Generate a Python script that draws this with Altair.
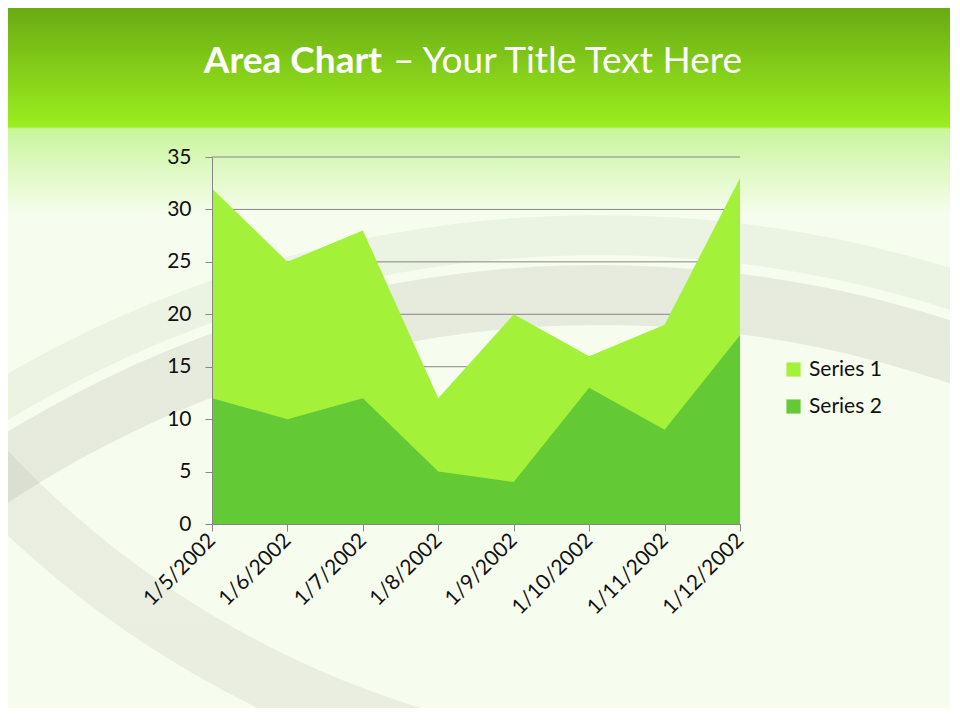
import altair as alt
import pandas as pd

dates = ["1/5/2002", "1/6/2002", "1/7/2002", "1/8/2002", "1/9/2002", "1/10/2002", "1/11/2002", "1/12/2002"]
series1 = [32, 25, 28, 12, 20, 16, 19, 33]
series2 = [12, 10, 12, 5, 4, 13, 9, 18]
series_names = ["Series 1", "Series 2"]
colors = ["#a4f13a", "#63c935"]
y_ticks = [0, 5, 10, 15, 20, 25, 30, 35]

rows = []
for d, a, b in zip(dates, series1, series2):
    rows.append({"date": d, "value": a, "series": "Series 1"})
    rows.append({"date": d, "value": b, "series": "Series 2"})
df = pd.DataFrame(rows)

FONT = "Lato"
W, H = 528, 367
one = pd.DataFrame({"k": [0]})

bg = alt.Chart(one).mark_rect(
    fill=alt.Gradient(
        gradient="linear", x1=0, x2=0, y1=0, y2=1,
        stops=[
            alt.GradientStop(offset=0.0, color="#67a613"),
            alt.GradientStop(offset=0.176, color="#9bee1e"),
            alt.GradientStop(offset=0.179, color="#c9f59c"),
            alt.GradientStop(offset=0.30, color="#f6fdee"),
            alt.GradientStop(offset=1.0, color="#f6fcee"),
        ],
    )
).encode(x=alt.value(-212), x2=alt.value(740), y=alt.value(-157), y2=alt.value(563))

swoosh1 = alt.Chart(one).mark_arc(
    radius=1135, radius2=1075, theta=5.3, theta2=7.2, color="#9a9a92", opacity=0.18
).encode(x=alt.value(388), y=alt.value(1243))
swoosh2 = alt.Chart(one).mark_arc(
    radius=1185, radius2=1145, theta=5.3, theta2=7.2, color="#a8b89a", opacity=0.14
).encode(x=alt.value(388), y=alt.value(1243))
swoosh3 = alt.Chart(one).mark_arc(
    radius=1010, radius2=950, theta=3.3, theta2=4.2, color="#9a9a92", opacity=0.14
).encode(x=alt.value(488), y=alt.value(-357))

title_bold = alt.Chart(one).mark_text(
    text="Area Chart", font=FONT, fontSize=37, fontWeight="bold", color="white",
    align="right", baseline="middle"
).encode(x=alt.value(170), y=alt.value(-95))

title_rest = alt.Chart(one).mark_text(
    text="\u2013 Your Title Text Here", font=FONT, fontSize=37, color="white",
    align="left", baseline="middle"
).encode(x=alt.value(181), y=alt.value(-95))

y_scale = alt.Scale(domain=[0, 35], nice=False)
y_axis = alt.Axis(
    values=y_ticks,
    labelFont=FONT, labelFontSize=21, labelColor="#111111",
    domainColor="#868686", tickColor="#868686", tickSize=7, labelPadding=14,
    grid=False, zindex=1,
)

grid = alt.Chart(pd.DataFrame({"v": y_ticks[1:]})).mark_rule(color="#868686", strokeWidth=1).encode(
    y=alt.Y("v:Q", scale=y_scale, axis=y_axis, title=None)
)

color = alt.Color(
    "series:N",
    scale=alt.Scale(domain=series_names, range=colors),
    legend=alt.Legend(
        title=None, orient="none", legendX=571, legendY=202,
        symbolType="square", symbolSize=200, symbolOpacity=1, symbolStrokeWidth=0,
        labelFont=FONT, labelFontSize=21, labelColor="#111111",
        rowPadding=15, labelOffset=5,
    ),
)

x = alt.X(
    "date:O", sort=dates, scale=alt.Scale(type="point", padding=0), title=None,
    axis=alt.Axis(
        labelAngle=-45, labelAlign="right", labelBaseline="middle",
        labelFont=FONT, labelFontSize=21, labelColor="#111111",
        domainColor="#868686", tickColor="#868686", tickSize=7, labelPadding=6,
        grid=False, zindex=1,
    ),
)
y = alt.Y("value:Q", scale=y_scale, title=None, axis=y_axis)

a1 = alt.Chart(df).transform_filter(alt.datum.series == "Series 1").mark_area(opacity=1).encode(
    x=x, y=y, color=color
)
a2 = alt.Chart(df).transform_filter(alt.datum.series == "Series 2").mark_area(opacity=1).encode(
    x=x, y=y, color=color
)

chart = alt.layer(bg, swoosh1, swoosh2, swoosh3, grid, a1, a2, title_bold, title_rest).properties(
    width=W, height=H,
    autosize=alt.AutoSizeParams(type="none"),
    padding={"left": 204, "top": 149, "right": 210, "bottom": 184},
).configure_view(stroke=None).configure(background="#f6fcee")

chart.save("out.html", embed_options={"renderer": "svg", "actions": False})
